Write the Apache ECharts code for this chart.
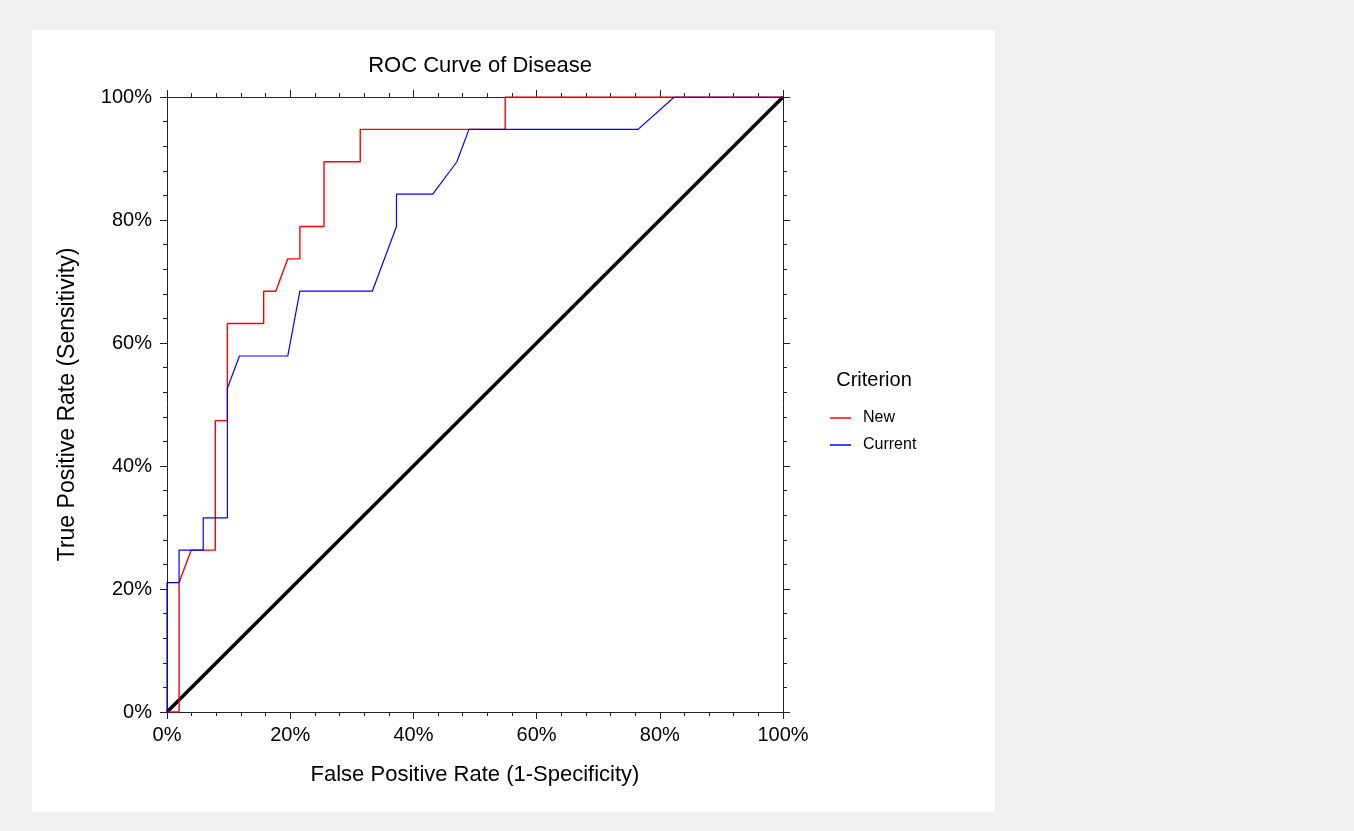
<!DOCTYPE html>
<html>
<head>
<meta charset="utf-8">
<script src="https://cdn.jsdelivr.net/npm/echarts@6/dist/echarts.min.js"></script>
<style>
  html, body { margin: 0; padding: 0; background: #f0f0f0; }
  #panel { position: absolute; left: 32px; top: 30px; width: 963px; height: 782px; background: #fff; }
  #roc-chart { position: absolute; left: 0; top: 0; width: 1354px; height: 831px; }
</style>
</head>
<body>
<div id="panel"></div>
<div id="roc-chart"></div>
<script>
// ROC points, [false positive %, true positive %]
var newCurve = [
  [0, 0], [1.96, 0], [1.96, 21.05], [3.92, 26.32], [7.84, 26.32], [7.84, 47.37],
  [9.80, 47.37], [9.80, 63.16], [15.69, 63.16], [15.69, 68.42], [17.65, 68.42],
  [19.61, 73.68], [21.57, 73.68], [21.57, 78.95], [25.49, 78.95], [25.49, 89.47],
  [31.37, 89.47], [31.37, 94.74], [54.90, 94.74], [54.90, 100], [100, 100]
]
var currentCurve = [
  [0, 0], [0, 21.05], [1.96, 21.05], [1.96, 26.32], [5.88, 26.32], [5.88, 31.58],
  [9.80, 31.58], [9.80, 52.63], [11.76, 57.89], [19.61, 57.89], [21.57, 68.42],
  [33.33, 68.42], [37.25, 78.95], [37.25, 84.21], [43.14, 84.21], [47.06, 89.47],
  [49.02, 94.74], [76.47, 94.74], [82.35, 100], [100, 100]
]
var refLine = [[0, 0], [100, 100]]
var seriesNames = ['New', 'Current']

var font = 'Liberation Sans, Arial, sans-serif'
var myChart = echarts.init(document.getElementById('roc-chart'))

function pctAxis (position, showLabel, margin) {
  return {
    type: 'value',
    position: position,
    min: 0,
    max: 100,
    interval: 20,
    axisLine: { show: true, onZero: false, lineStyle: { color: '#222', width: 1 } },
    axisTick: { show: true, inside: false, length: 7, lineStyle: { color: '#222' } },
    minorTick: { show: true, splitNumber: 5, length: 4, lineStyle: { color: '#222' } },
    splitLine: { show: false },
    axisLabel: {
      show: showLabel,
      formatter: '{value}%',
      color: '#000',
      fontSize: 20,
      fontFamily: font,
      margin: margin
    }
  }
}

var xBottom = pctAxis('bottom', true, 13)
xBottom.name = 'False Positive Rate (1-Specificity)'
xBottom.nameLocation = 'middle'
xBottom.nameGap = 52
xBottom.nameTextStyle = { color: '#000', fontSize: 22, fontFamily: font }

var yLeft = pctAxis('left', true, 15)
yLeft.name = 'True Positive Rate (Sensitivity)'
yLeft.nameLocation = 'middle'
yLeft.nameGap = 88
yLeft.nameTextStyle = { color: '#000', fontSize: 23, fontFamily: font }

var option = {
  animation: false,
  title: [
    {
      text: 'ROC Curve of Disease',
      left: 475,
      top: 50,
      textAlign: 'center',
      textStyle: { color: '#000', fontSize: 22, fontWeight: 'normal', fontFamily: font }
    },
    {
      text: 'Criterion',
      left: 869,
      top: 365,
      textAlign: 'center',
      textStyle: { color: '#000', fontSize: 20, fontWeight: 'normal', fontFamily: font }
    }
  ],
  legend: {
    data: seriesNames,
    orient: 'vertical',
    left: 825,
    top: 405,
    icon: 'rect',
    itemWidth: 21,
    itemHeight: 1.5,
    itemGap: 11,
    textStyle: { color: '#000', fontSize: 16, fontFamily: font, padding: [0, 0, 0, 7] }
  },
  grid: {
    left: 167,
    top: 97,
    width: 616,
    height: 615
  },
  xAxis: [xBottom, pctAxis('top', false, 13)],
  yAxis: [yLeft, pctAxis('right', false, 15)],
  series: [
    {
      name: 'ref',
      type: 'line',
      data: refLine,
      showSymbol: false,
      silent: true,
      lineStyle: { color: '#000', width: 3.5 }
    },
    {
      name: 'New',
      type: 'line',
      data: newCurve,
      showSymbol: false,
      itemStyle: { color: '#ff0000' },
      lineStyle: { color: '#ff0000', width: 1.4 }
    },
    {
      name: 'Current',
      type: 'line',
      data: currentCurve,
      showSymbol: false,
      itemStyle: { color: '#0000ff' },
      lineStyle: { color: '#0000ff', width: 1.2 }
    }
  ]
}
myChart.setOption(option, true)
</script>
</body>
</html>
